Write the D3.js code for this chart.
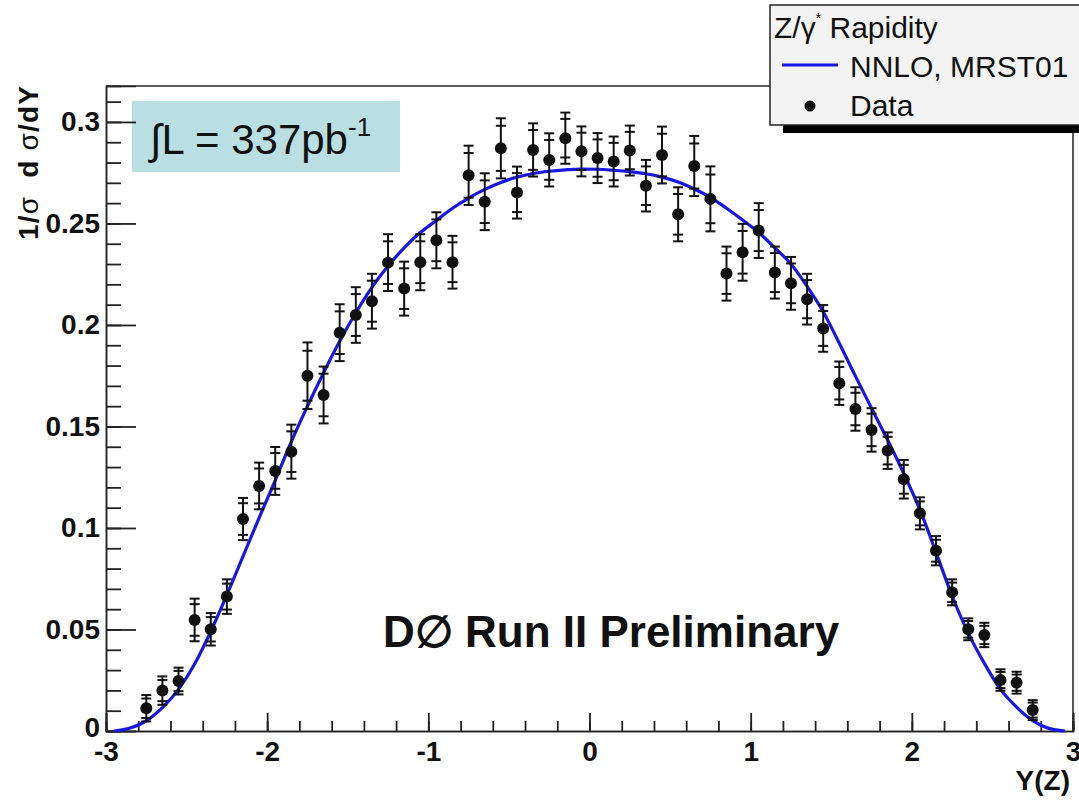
<!DOCTYPE html>
<html>
<head>
<meta charset="utf-8">
<script src="https://cdn.jsdelivr.net/npm/d3@7"></script>
<style>
  html, body { margin: 0; padding: 0; background: #ffffff; }
  svg { display: block; }
  text { font-family: "Liberation Sans", Arial, Helvetica, sans-serif; }
</style>
</head>
<body>
<svg id="chart" width="1079" height="802"></svg>
<script>
// ---------- data ----------
const dataY = [-2.75,-2.65,-2.55,-2.45,-2.35,-2.25,-2.15,-2.05,-1.95,-1.85,-1.75,-1.65,-1.55,-1.45,-1.35,-1.25,-1.15,-1.05,-0.95,-0.85,-0.75,-0.65,-0.55,-0.45,-0.35,-0.25,-0.15,-0.05,
               0.05,0.15,0.25,0.35,0.45,0.55,0.65,0.75,0.85,0.95,1.05,1.15,1.25,1.35,1.45,1.55,1.65,1.75,1.85,1.95,2.05,2.15,2.25,2.35,2.45,2.55,2.65,2.75];
const dataVal = [0.0112,0.0199,0.0246,0.0547,0.0501,0.0662,0.1044,0.1207,0.1281,0.1376,0.1750,0.1655,0.1962,0.2049,0.2117,0.2307,0.2179,0.2309,0.2417,0.2309,0.2737,0.2607,0.2870,0.2652,0.2862,0.2813,0.2920,0.2855,
                 0.2822,0.2805,0.2859,0.2686,0.2837,0.2545,0.2783,0.2621,0.2253,0.2358,0.2465,0.2258,0.2205,0.2127,0.1983,0.1713,0.1586,0.1483,0.1381,0.1240,0.1072,0.0888,0.0683,0.0501,0.0473,0.0251,0.0238,0.0103];
const errTotal = [0.0065,0.0070,0.0066,0.0105,0.0080,0.0085,0.0104,0.0115,0.0118,0.0133,0.0164,0.0140,0.0140,0.0137,0.0135,0.0140,0.0133,0.0138,0.0138,0.0130,0.0146,0.0140,0.0148,0.0128,0.0131,0.0131,0.0126,0.0123,
                  0.0123,0.0123,0.0123,0.0127,0.0140,0.0133,0.0148,0.0160,0.0133,0.0140,0.0135,0.0128,0.0130,0.0125,0.0115,0.0107,0.0107,0.0107,0.0090,0.0095,0.0079,0.0072,0.0064,0.0054,0.0060,0.0053,0.0054,0.0049];
const errStat = [0.0048,0.0052,0.0050,0.0078,0.0060,0.0064,0.0078,0.0086,0.0088,0.0100,0.0123,0.0105,0.0105,0.0103,0.0101,0.0105,0.0100,0.0103,0.0103,0.0098,0.0110,0.0105,0.0111,0.0096,0.0098,0.0098,0.0095,0.0092,
                 0.0092,0.0092,0.0092,0.0095,0.0105,0.0100,0.0111,0.0120,0.0100,0.0105,0.0101,0.0096,0.0098,0.0094,0.0086,0.0080,0.0080,0.0080,0.0068,0.0071,0.0059,0.0054,0.0048,0.0041,0.0045,0.0040,0.0040,0.0037];

const theoryY = [-2.95,-2.85,-2.75,-2.65,-2.55,-2.45,-2.35,-2.25,-2.15,-2.05,-1.95,-1.85,-1.75,-1.65,-1.55,-1.45,-1.35,-1.25,-1.15,-1.05,-0.95,-0.85,-0.75,-0.65,-0.55,-0.45,-0.35,-0.25,-0.15,-0.05,
                 0.05,0.15,0.25,0.35,0.45,0.55,0.65,0.75,0.85,0.95,1.05,1.15,1.25,1.35,1.45,1.55,1.65,1.75,1.85,1.95,2.05,2.15,2.25,2.35,2.45,2.55,2.65,2.75,2.85,2.95];
const theoryVal = [0.0000,0.0015,0.0050,0.0115,0.0205,0.0330,0.0490,0.0670,0.0860,0.1050,0.1235,0.1425,0.1600,0.1765,0.1920,0.2060,0.2185,0.2290,0.2380,0.2455,0.2515,0.2575,0.2625,0.2668,0.2702,0.2728,0.2746,0.2757,0.2764,0.2768,
                   0.2767,0.2762,0.2755,0.2745,0.2728,0.2704,0.2670,0.2629,0.2575,0.2517,0.2455,0.2380,0.2300,0.2190,0.2065,0.1910,0.1748,0.1590,0.1433,0.1268,0.1090,0.0880,0.0665,0.0482,0.0333,0.0205,0.0118,0.0051,0.0013,0.0000];

const yTickLabels = ["0","0.05","0.1","0.15","0.2","0.25","0.3"];
const xTickLabels = ["-3","-2","-1","0","1","2","3"];
const legendTitle = "Z/γ";
const legendTheory = "NNLO, MRST01";
const legendData = "Data";
const lumiText = "∫L = 337pb";
const prelimText = "D∅ Run II Preliminary";

// ---------- layout ----------
const svg = d3.select("#chart");
const L = 106, R = 1073, T = 86, B = 731;
const x = d3.scaleLinear().domain([-3, 3]).range([L, R]);
const y = d3.scaleLinear().domain([0, 0.3177]).range([B, T]);
const blue = "#1818e6";
const fontBold = "bold";

// lumi box
svg.append("rect").attr("x", 132).attr("y", 101).attr("width", 268).attr("height", 71).attr("fill", "#b9dfe2");
const lt = svg.append("text").attr("x", 150).attr("y", 154).attr("font-size", 42).attr("fill", "#111");
lt.append("tspan").text(lumiText);
lt.append("tspan").attr("font-size", 26).attr("dy", -18).text("-1");

// frame
svg.append("line").attr("x1", L).attr("x2", 770).attr("y1", T).attr("y2", T).attr("stroke", "#222").attr("stroke-width", 1.5);
svg.append("line").attr("x1", R).attr("x2", R).attr("y1", 125).attr("y2", B).attr("stroke", "#222").attr("stroke-width", 1.5);

// y axis major + minor (inward ticks)
const yMajor = d3.axisLeft(y).tickValues(d3.range(0, 7).map(i => i * 0.05)).tickSize(-30).tickPadding(6)
  .tickFormat((d, i) => yTickLabels[i]);
const yMinor = d3.axisLeft(y).tickValues(d3.range(0, 32).map(i => i * 0.01)).tickSize(-15).tickFormat("");
const gyMin = svg.append("g").attr("transform", `translate(${L},0)`).call(yMinor);
const gy = svg.append("g").attr("transform", `translate(${L},0)`).call(yMajor);
[gy, gyMin].forEach(g => {
  g.selectAll("path").attr("stroke", "#222").attr("stroke-width", 1.5);
  g.selectAll("line").attr("stroke", "#222").attr("stroke-width", 1.8);
});
gy.selectAll("text").attr("font-size", 28).attr("font-weight", fontBold).attr("fill", "#111")
  .attr("font-family", "Liberation Sans, Arial, sans-serif");
gy.selectAll(".tick").filter(d => d === 0).select("text").attr("dy", "0.2em");

// x axis major + minor (inward ticks)
const xMajor = d3.axisBottom(x).tickValues(d3.range(-3, 4)).tickSize(-18).tickPadding(10)
  .tickFormat((d, i) => xTickLabels[i]);
const xMinor = d3.axisBottom(x).tickValues(d3.range(-15, 16).map(i => i * 0.2)).tickSize(-10).tickFormat("");
const gxMin = svg.append("g").attr("transform", `translate(0,${B})`).call(xMinor);
const gx = svg.append("g").attr("transform", `translate(0,${B})`).call(xMajor);
[gx, gxMin].forEach(g => {
  g.selectAll("path").attr("stroke", "#222").attr("stroke-width", 1.5);
  g.selectAll("line").attr("stroke", "#222").attr("stroke-width", 1.8);
});
gx.selectAll("text").attr("font-size", 28).attr("font-weight", fontBold).attr("fill", "#111")
  .attr("font-family", "Liberation Sans, Arial, sans-serif");

// axis titles
svg.append("text").attr("x", 1070).attr("y", 790).attr("text-anchor", "end")
  .attr("font-size", 28).attr("font-weight", fontBold).attr("fill", "#111").text("Y(Z)");
const yt = svg.append("text").attr("transform", "translate(38,86) rotate(-90)").attr("text-anchor", "end")
  .attr("font-size", 28).attr("font-weight", fontBold).attr("fill", "#111").style("white-space", "pre")
  .attr("textLength", 154).attr("lengthAdjust", "spacing");
yt.append("tspan").text("1/");
yt.append("tspan").attr("font-weight", "normal").text("σ");
yt.append("tspan").text("  d ");
yt.append("tspan").attr("font-weight", "normal").text("σ");
yt.append("tspan").text("/dY");

// preliminary label
svg.append("text").attr("x", 383).attr("y", 647).attr("font-size", 44).attr("font-weight", fontBold)
  .attr("fill", "#111").text(prelimText);

// theory curve
const theory = theoryY.map((v, i) => ({ x: v, y: theoryVal[i] }));
svg.append("path").datum(theory)
  .attr("d", d3.line().x(d => x(d.x)).y(d => y(d.y)).curve(d3.curveMonotoneX))
  .attr("fill", "none").attr("stroke", blue).attr("stroke-width", 3.2);

// data with error bars
const pts = dataY.map((v, i) => ({ x: v, y: dataVal[i], et: errTotal[i], es: errStat[i] }));
const g = svg.append("g");
const eb = g.selectAll("g.pt").data(pts).join("g").attr("class", "pt");
eb.append("line").attr("x1", d => x(d.x)).attr("x2", d => x(d.x))
  .attr("y1", d => y(d.y + d.et)).attr("y2", d => y(d.y - d.et))
  .attr("stroke", "#111").attr("stroke-width", 2);
[["et", 1], ["et", -1], ["es", 1], ["es", -1]].forEach(([k, s]) => {
  eb.append("line").attr("x1", d => x(d.x) - 5).attr("x2", d => x(d.x) + 5)
    .attr("y1", d => y(d.y + s * d[k])).attr("y2", d => y(d.y + s * d[k]))
    .attr("stroke", "#111").attr("stroke-width", 2);
});
eb.append("circle").attr("cx", d => x(d.x)).attr("cy", d => y(d.y)).attr("r", 6).attr("fill", "#111");

// legend
svg.append("rect").attr("x", 783).attr("y", 120).attr("width", 320).attr("height", 13).attr("fill", "#000");
svg.append("rect").attr("x", 770).attr("y", 5).attr("width", 330).attr("height", 120)
  .attr("fill", "#f3f3f3").attr("stroke", "#222").attr("stroke-width", 1.5);
const lg = svg.append("text").attr("x", 774).attr("y", 38).attr("font-size", 30).attr("fill", "#111");
lg.append("tspan").text(legendTitle);
lg.append("tspan").attr("font-size", 14).attr("dy", -15).text("*");
lg.append("tspan").attr("dy", 15).text(" Rapidity");
svg.append("line").attr("x1", 782).attr("x2", 838).attr("y1", 65).attr("y2", 65).attr("stroke", blue).attr("stroke-width", 3);
svg.append("text").attr("x", 850).attr("y", 77).attr("font-size", 30).attr("fill", "#111").text(legendTheory);
svg.append("circle").attr("cx", 810).attr("cy", 106).attr("r", 5.5).attr("fill", "#111");
svg.append("text").attr("x", 850).attr("y", 116).attr("font-size", 30).attr("fill", "#111").text(legendData);
</script>
</body>
</html>
